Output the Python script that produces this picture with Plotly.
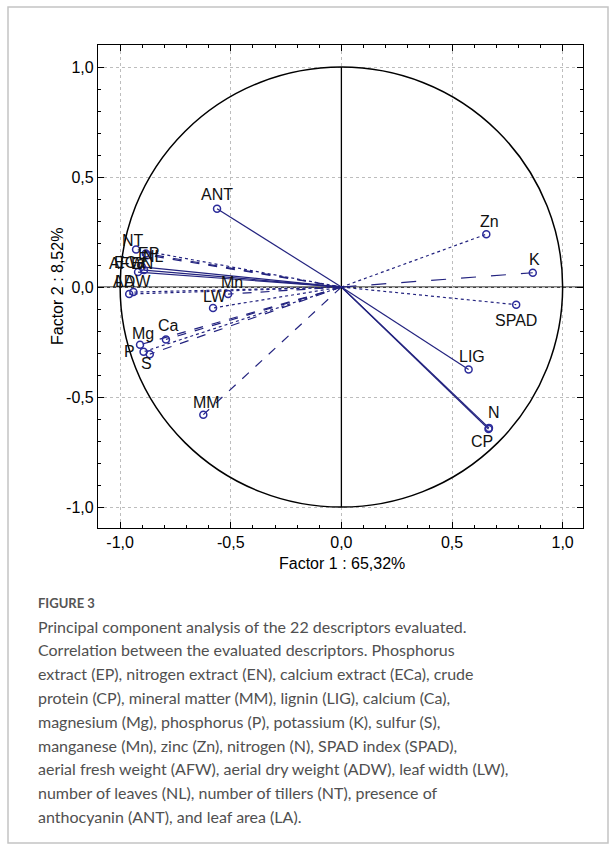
import plotly.graph_objects as go

# ---------------- data ----------------
descriptors = ["EP", "EN", "ECa", "CP", "MM", "LIG", "Ca", "Mg", "P", "K", "S",
               "Mn", "Zn", "N", "SPAD", "AFW", "ADW", "LW", "NL", "NT", "ANT", "LA"]
factor1 = [-0.884, -0.892, -0.902, 0.665, -0.624, 0.575, -0.793, -0.910, -0.894, 0.865, -0.866,
           -0.512, 0.655, 0.667, 0.790, -0.919, -0.940, -0.580, -0.878, -0.928, -0.562, -0.959]
factor2 = [0.152, 0.077, 0.092, -0.645, -0.580, -0.375, -0.238, -0.262, -0.294, 0.065, -0.305,
           -0.032, 0.240, -0.640, -0.080, 0.068, -0.023, -0.095, 0.145, 0.171, 0.356, -0.032]
tick_vals = [-1.0, -0.5, 0.0, 0.5, 1.0]
tick_text = ["-1,0", "-0,5", "0,0", "0,5", "1,0"]
x_title = "Factor 1 : 65,32%"
y_title = "Factor 2 : 8,52%"

# ---------------- styles ----------------
line_dash = {"EP": "dash", "EN": "solid", "ECa": "solid", "CP": "solid", "MM": "dash",
             "LIG": "solid", "Ca": "dash", "Mg": "dash", "P": "dot", "K": "longdash",
             "S": "dash", "Mn": "dash", "Zn": "dot", "N": "solid", "SPAD": "dot",
             "AFW": "solid", "ADW": "dot", "LW": "dot", "NL": "dash", "NT": "dot",
             "ANT": "solid", "LA": "dot"}
# label offset from its marker, in pixels (x right, y up)
label_shift = {"EP": (3, 0), "EN": (-2, 7), "ECa": (-12, 4), "CP": (-7, -13), "MM": (3, 12),
               "LIG": (3, 13), "Ca": (3, 14), "Mg": (3, 11), "P": (-14, 0), "K": (2, 13),
               "S": (-3, -9), "Mn": (4, 12), "Zn": (3, 13), "N": (5, 15), "SPAD": (0, -16),
               "AFW": (-11, 9), "ADW": (-1, 11), "LW": (2, 11), "NL": (6, -1), "NT": (-3, 9),
               "ANT": (0, 14), "LA": (-4, 13)}
LINE_COL = "#23237f"
MARK_COL = "#2b2b9b"
FONT = "Arial, Liberation Sans, sans-serif"

fig = go.Figure()

for name, fx, fy in zip(descriptors, factor1, factor2):
    fig.add_trace(go.Scatter(x=[0, fx], y=[0, fy], mode="lines",
                             line=dict(color=LINE_COL, width=1.2, dash=line_dash[name]),
                             showlegend=False, hoverinfo="skip"))

fig.add_trace(go.Scatter(
    x=factor1, y=factor2, mode="markers", text=descriptors,
    marker=dict(symbol="circle-open", size=7, color=MARK_COL, line=dict(width=1.5, color=MARK_COL)),
    showlegend=False))

# plot-area pixel geometry
L, R, T, B = 98, 583, 45, 528
W, H = 616, 850
PW, PH = R - L, B - T


def px(x):
    return (x - L) / PW


def py(y):
    return (B - y) / PH


shapes = [
    dict(type="circle", xref="x", yref="y", x0=-1, y0=-1, x1=1, y1=1,
         line=dict(color="black", width=1.5), layer="between"),
    dict(type="line", xref="x", yref="y", x0=0, x1=0, y0=-1, y1=1,
         line=dict(color="black", width=1.3), layer="between"),
    dict(type="line", xref="paper", yref="y", x0=0, x1=1, y0=0, y1=0,
         line=dict(color="black", width=1.3), layer="between"),
    dict(type="rect", xref="paper", yref="paper", x0=px(8), x1=px(608), y0=py(843), y1=py(7),
         line=dict(color="#c4c4c4", width=1.5)),
]

annotations = []
for name, fx, fy in zip(descriptors, factor1, factor2):
    dx, dy = label_shift[name]
    annotations.append(dict(text=name, x=fx, y=fy, xref="x", yref="y", showarrow=False,
                            xshift=dx, yshift=dy, xanchor="center", yanchor="middle",
                            font=dict(family=FONT, size=16, color="#111111")))

annotations += [
    dict(text=x_title, x=px(342), y=py(563), xref="paper", yref="paper", showarrow=False,
         xanchor="center", yanchor="middle", font=dict(family=FONT, size=16, color="black")),
    dict(text=y_title, x=px(57), y=py(287), xref="paper", yref="paper", showarrow=False,
         textangle=-90, xanchor="center", yanchor="middle",
         font=dict(family=FONT, size=16, color="black")),
    dict(text="<b>FIGURE 3</b>", x=px(36), y=py(603), xref="paper", yref="paper", showarrow=False,
         xanchor="left", yanchor="middle", font=dict(family="Lato, sans-serif", size=13, color="#555555")),
]

caption_lines = [
    "Principal component analysis of the 22 descriptors evaluated.",
    "Correlation between the evaluated descriptors. Phosphorus",
    "extract (EP), nitrogen extract (EN), calcium extract (ECa), crude",
    "protein (CP), mineral matter (MM), lignin (LIG), calcium (Ca),",
    "magnesium (Mg), phosphorus (P), potassium (K), sulfur (S),",
    "manganese (Mn), zinc (Zn), nitrogen (N), SPAD index (SPAD),",
    "aerial fresh weight (AFW), aerial dry weight (ADW), leaf width (LW),",
    "number of leaves (NL), number of tillers (NT), presence of",
    "anthocyanin (ANT), and leaf area (LA).",
]
for i, line in enumerate(caption_lines):
    annotations.append(dict(text=line, x=px(36), y=py(626 + i * 23.8), xref="paper", yref="paper",
                            showarrow=False, xanchor="left", yanchor="middle",
                            font=dict(family="Lato, sans-serif", size=16, color="#505050")))

axis_common = dict(
    tickvals=tick_vals, ticktext=tick_text, ticks="inside", ticklen=6, tickcolor="black",
    showline=True, linecolor="black", linewidth=1.2, mirror="allticks",
    showgrid=True, gridcolor="#bdbdbd", griddash="dot", gridwidth=1, zeroline=False,
    tickfont=dict(family=FONT, size=16, color="black"),
    minor=dict(dtick=0.1, ticks="inside", ticklen=3, tickcolor="black", showgrid=False),
)

fig.update_layout(
    width=W, height=H, margin=dict(l=L, r=W - R, t=T, b=H - B),
    paper_bgcolor="white", plot_bgcolor="white",
    xaxis=dict(range=[-1.1, 1.092], **axis_common),
    yaxis=dict(range=[-1.095, 1.1], **axis_common),
    shapes=shapes, annotations=annotations, showlegend=False,
)

fig.write_html("out.html")
